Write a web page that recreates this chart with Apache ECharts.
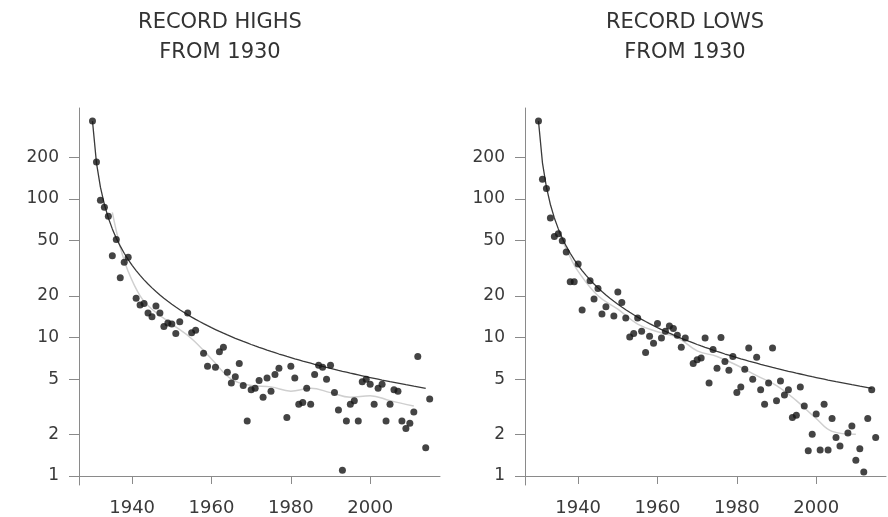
<!DOCTYPE html>
<html><head><meta charset="utf-8">
<script src="https://cdn.jsdelivr.net/npm/echarts@6/dist/echarts.min.js"></script>
<style>html,body{margin:0;padding:0;background:#fff}#c{width:888px;height:517px}</style>
</head><body><div id="c"></div>
<script>
// ---- data ----
const years = [1930,1931,1932,1933,1934,1935,1936,1937,1938,1939,
  1940,1941,1942,1943,1944,1945,1946,1947,1948,1949,
  1950,1951,1952,1953,1954,1955,1956,1957,1958,1959,
  1960,1961,1962,1963,1964,1965,1966,1967,1968,1969,
  1970,1971,1972,1973,1974,1975,1976,1977,1978,1979,
  1980,1981,1982,1983,1984,1985,1986,1987,1988,1989,
  1990,1991,1992,1993,1994,1995,1996,1997,1998,1999,
  2000,2001,2002,2003,2004,2005,2006,2007,2008,2009,
  2010,2011,2012,2013,2014,2015];

const recordHighs = [365,185,98,87,75,39,51,27,35,38,
  null,19.2,17.2,17.6,15,14.1,16.9,15,12,12.7,
  12.5,10.7,13,null,15,10.8,11.3,null,7.7,6.2,
  null,6.1,7.9,8.5,5.6,4.7,5.2,6.5,4.5,2.5,
  4.2,4.3,4.9,3.7,5.1,4.1,5.4,6.0,null,2.65,
  6.2,5.1,3.3,3.4,4.3,3.3,5.4,6.3,6.1,5.0,
  6.3,4.0,3.0,1.1,2.5,3.3,3.5,2.5,4.8,5.0,
  4.6,3.3,4.3,4.6,2.5,3.3,4.2,4.1,2.5,2.2,
  2.4,2.9,7.3,null,1.6,3.6];

const recordLows = [365,139,119,73,53.5,56,50,41.5,25.3,25.3,
  34,15.8,null,25.7,19,22.6,14.8,16.7,null,14.3,
  21.3,17.9,13.8,10.1,10.7,13.8,11.1,7.8,10.2,9.1,
  12.6,9.9,11.1,12.1,11.6,10.4,8.5,9.9,null,6.5,
  6.9,7.1,9.9,4.7,8.2,6.0,10,6.7,5.8,7.3,
  4.0,4.4,5.9,8.4,5.0,7.2,4.2,3.3,4.7,8.4,
  3.5,4.85,3.85,4.2,2.65,2.75,4.4,3.2,1.52,2.0,
  2.8,1.54,3.3,1.54,2.6,1.9,1.65,null,2.04,2.3,
  1.3,1.57,1.07,2.6,4.2,1.9];

// expected-records curve (dark line), one value per year 1930..2014
const curveValues = [365,182.5,121.7,91.25,73,60.83,52.14,45.63,40.56,36.5,
  33.18,30.42,28.08,26.07,24.33,22.81,21.47,20.28,19.21,18.25,
  17.38,16.59,15.87,15.21,14.6,14.04,13.52,13.04,12.59,12.17,
  11.77,11.41,11.06,10.74,10.43,10.14,9.86,9.61,9.36,9.13,
  8.9,8.69,8.49,8.3,8.11,7.93,7.77,7.6,7.45,7.3,
  7.16,7.02,6.89,6.76,6.64,6.52,6.4,6.29,6.19,6.08,
  5.98,5.89,5.79,5.7,5.62,5.53,5.45,5.37,5.29,5.21,
  5.14,5.07,5.0,4.93,4.87,4.8,4.74,4.68,4.62,4.56,
  4.51,4.45,4.4,4.35,4.29];

// light grey trend lines
const trendHighYears  = [1935,1937,1939,1942,1945,1950,1955,1960,1965,1970,1975,1980,1985,1990,1995,2000,2005,2011];
const trendHighValues = [80,45,30,20,16,12.5,9.8,7,5,4.5,4.4,4.1,4.3,4.0,3.7,3.8,3.5,3.2];
const trendLowYears   = [1935,1938,1940,1945,1950,1955,1960,1965,1970,1975,1980,1985,1990,1995,2000,2004,2010];
const trendLowValues  = [58,38,30,20,16,12.5,11,10,8,7.3,6.3,5.3,4.5,3.5,2.6,2.1,2.0];

const titles = ['RECORD HIGHS\nFROM 1930', 'RECORD LOWS\nFROM 1930'];
const xTickLabels = [1940, 1960, 1980, 2000];
const yTickLabels = [1, 2, 5, 10, 20, 50, 100, 200];

// ---- chart ----
const lg = v => Math.log10(v);
const pairs = (xs, vs) => xs.map((x, i) => vs[i] == null ? null : [x, lg(vs[i])]).filter(d => d);

const axisColor = '#8a8a8a';
const labelFont = 'DejaVu Sans';

function xAx(gi) {
  return {
    gridIndex: gi, type: 'value', min: 1926.6, max: 2017.6,
    axisLine: {show: true, lineStyle: {color: axisColor, width: 1}},
    axisTick: {show: true, length: 8, customValues: xTickLabels, lineStyle: {color: axisColor}},
    axisLabel: {customValues: xTickLabels, margin: 14, fontSize: 18, color: '#3a3a3a', fontFamily: labelFont,
      formatter: v => String(Math.round(v))},
    splitLine: {show: false}
  };
}
function yAx(gi) {
  const cv = yTickLabels.map(lg);
  return {
    gridIndex: gi, type: 'value', min: -0.065, max: 2.657,
    axisLine: {show: true, lineStyle: {color: axisColor, width: 1}},
    axisTick: {show: true, length: 10, customValues: cv, lineStyle: {color: axisColor}},
    axisLabel: {customValues: cv, margin: 20, fontSize: 17, color: '#3a3a3a', fontFamily: labelFont,
      formatter: v => String(Math.round(Math.pow(10, v)))},
    splitLine: {show: false}
  };
}

const option = {
  backgroundColor: '#fff',
  animation: false,
  title: [
    {text: titles[0], left: 215, top: 3, textAlign: 'center',
     textStyle: {fontFamily: 'DejaVu Sans', fontWeight: 'normal', fontSize: 21, lineHeight: 30, color: '#333'}},
    {text: titles[1], left: 680, top: 3, textAlign: 'center',
     textStyle: {fontFamily: 'DejaVu Sans', fontWeight: 'normal', fontSize: 21, lineHeight: 30, color: '#333'}}
  ],
  grid: [
    {left: 79, top: 108, width: 361, height: 377},
    {left: 525, top: 108, width: 361, height: 377}
  ],
  xAxis: [xAx(0), xAx(1)],
  yAxis: [yAx(0), yAx(1)],
  series: [
    {type: 'line', xAxisIndex: 0, yAxisIndex: 0, data: pairs(trendHighYears, trendHighValues), smooth: 0.4,
     symbol: 'none', lineStyle: {color: '#cfcfcf', width: 1.5}, z: 1},
    {type: 'line', xAxisIndex: 1, yAxisIndex: 1, data: pairs(trendLowYears, trendLowValues), smooth: 0.4,
     symbol: 'none', lineStyle: {color: '#cfcfcf', width: 1.5}, z: 1},
    {type: 'line', xAxisIndex: 0, yAxisIndex: 0, data: pairs(years, curveValues),
     symbol: 'none', lineStyle: {color: '#3a3a3a', width: 1.3}, z: 2},
    {type: 'line', xAxisIndex: 1, yAxisIndex: 1, data: pairs(years, curveValues),
     symbol: 'none', lineStyle: {color: '#3a3a3a', width: 1.3}, z: 2},
    {type: 'scatter', xAxisIndex: 0, yAxisIndex: 0, data: pairs(years, recordHighs),
     symbol: 'circle', symbolSize: 7, itemStyle: {color: '#151515'}, z: 3},
    {type: 'scatter', xAxisIndex: 1, yAxisIndex: 1, data: pairs(years, recordLows),
     symbol: 'circle', symbolSize: 7, itemStyle: {color: '#151515'}, z: 3}
  ]
};
echarts.init(document.getElementById('c'), null, {renderer: 'canvas'}).setOption(option);
</script>
</body></html>
